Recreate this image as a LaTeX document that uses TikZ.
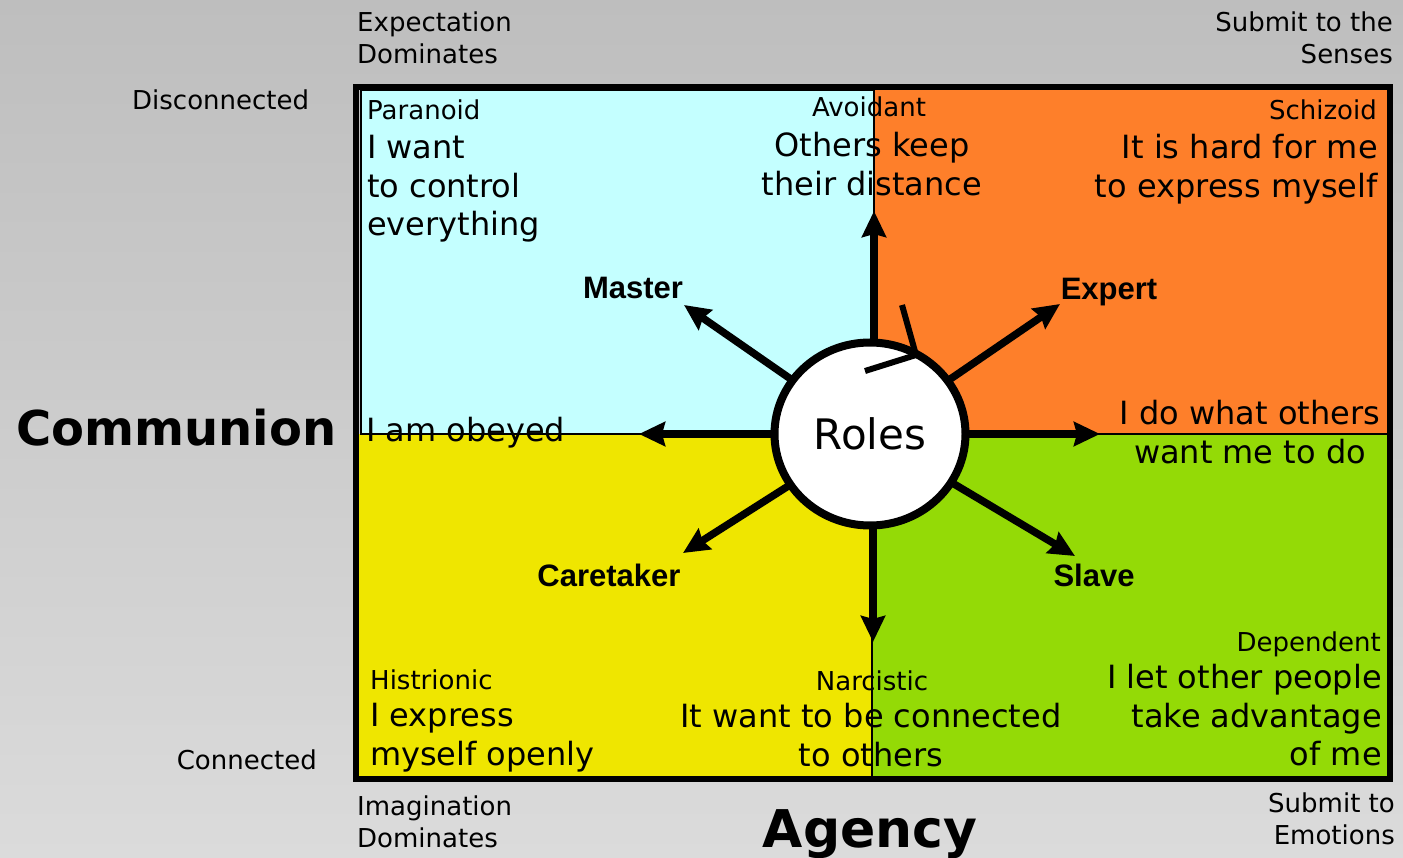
\documentclass[tikz,border=0pt]{standalone}
\usepackage{fontspec}
\setmainfont{DejaVu Sans}
\newfontfamily\arialfont{Liberation Sans}
\usetikzlibrary{arrows.meta,shapes.geometric}
\definecolor{bgtop}{HTML}{BEBEBE}
\definecolor{bgbot}{HTML}{DBDBDB}
\definecolor{qcyan}{HTML}{C4FFFF}
\definecolor{qorange}{HTML}{FE7F2A}
\definecolor{qyellow}{HTML}{EFE600}
\definecolor{qgreen}{HTML}{94DA06}
\begin{document}
\begin{tikzpicture}[x=1pt,y=-1pt,
  small/.style={font=\fontsize{26}{32}\selectfont, inner sep=0pt},
  big/.style={font=\fontsize{32}{38.5}\selectfont, inner sep=0pt},
  rolelabel/.style={font=\arialfont\bfseries\fontsize{31}{36}\selectfont, inner sep=0pt},
  axislabel/.style={font=\bfseries\fontsize{48}{56}\selectfont, inner sep=0pt},
  arr/.style={line width=7.5pt, -{Stealth[length=26pt,width=24pt,inset=3pt]}},
  divider/.style={line width=1.6pt}]
\useasboundingbox (0,0) rectangle (1403,858);
\shade[top color=bgtop, bottom color=bgbot] (0,0) rectangle (1403,858);
% quadrants
\filldraw[fill=qcyan, line width=1.2pt] (361,90) rectangle (874,434);
\fill[qorange] (874,90) rectangle (1388,434);
\fill[qyellow] (358,434) rectangle (873,776);
\fill[qgreen] (873,434) rectangle (1388,776);
% outer labels
\node[small, anchor=north west, align=left] (expect) at (357,12) {Expectation\\Dominates};
\node[small, anchor=north east, align=right] (senses) at (1393,12) {Submit to the\\Senses};
\node[small, anchor=base west] (disc) at (132,110) {Disconnected};
\node[small, anchor=base east] (conn) at (317,769) {Connected};
\node[small, anchor=north west, align=left] (imag) at (357,796) {Imagination\\Dominates};
\node[small, anchor=north east, align=right] (emot) at (1395,793) {Submit to\\Emotions};
\node[axislabel, anchor=base west] (communion) at (16,446) {Communion};
\node[axislabel, font=\bfseries\fontsize{52}{60}\selectfont, anchor=base] (agency) at (870,847) {Agency};
% quadrant texts
\node[small, anchor=base west] (paranoid) at (367,120) {Paranoid};
\node[big, anchor=north west, align=left] (paranoidtxt) at (367,135) {I want\\to control\\everything};
\node[small, anchor=base] (avoidant) at (869,117) {Avoidant};
\node[big, anchor=north, align=center] (avoidanttxt) at (872,132) {Others keep\\their distance};
\node[small, anchor=base east] (schizoid) at (1377,120) {Schizoid};
\node[big, anchor=north east, align=right] (schizoidtxt) at (1378,134) {It is hard for me\\to express myself};
\node[big, anchor=north, align=center] (dowhat) at (1250,400) {I do what others\\want me to do};
\node[big, anchor=base west] (obeyed) at (366,442) {I am obeyed};
\node[small, anchor=base west] (histrionic) at (370,689) {Histrionic};
\node[big, anchor=north west, align=left] (histriontxt) at (370,703) {I express\\myself openly};
\node[small, anchor=base] (narcistic) at (872,690) {Narcistic};
\node[big, anchor=north, align=center] (narcistictxt) at (871,703) {It want to be connected\\to others};
\node[small, anchor=base east] (dependent) at (1381,651) {Dependent};
\node[big, anchor=north east, align=right] (dependenttxt) at (1382,664) {I let other people\\take advantage\\of me};
% dividers
\coordinate (vtop) at (874,90);
\coordinate (vbot) at (872,776);
\coordinate (hleft) at (360,434);
\coordinate (hright) at (1388,434);
\draw[divider] (vtop) -- (874,434);
\draw[divider] (872,434) -- (vbot);
\draw[divider] (hleft) -- (hright);
% frame
\draw[line width=6pt] (356,87.5) rectangle (1390,778.5);
% role labels
\node[rolelabel] (master) at (633,288) {Master};
\node[rolelabel] (expert) at (1109,292) {Expert};
\node[rolelabel] (caretaker) at (609,575) {Caretaker};
\node[rolelabel] (slave) at (1094,575) {Slave};
% arrows
\coordinate (roles0) at (870,434);
\coordinate (tipup) at (874,211);
\coordinate (tipdown) at (873,642);
\coordinate (tipleft) at (639,434);
\coordinate (tipright) at (1100,434);
\coordinate (tipmaster) at (684,305);
\coordinate (tipexpert) at (1060,304);
\coordinate (tipcare) at (683,553);
\coordinate (tipslave) at (1075,556);
\draw[arr] (874,400) -- (tipup);
\draw[arr] (873,470) -- (tipdown);
\draw[arr] (830,434) -- (tipleft);
\draw[arr] (910,434) -- (tipright);
\draw[arr] (roles0) -- (tipmaster);
\draw[arr] (roles0) -- (tipexpert);
\draw[arr] (roles0) -- (tipcare);
\draw[arr] (roles0) -- (tipslave);
% circle
\node[ellipse, draw, fill=white, line width=8pt, minimum width=191pt, minimum height=183pt, inner sep=0pt,
  font=\fontsize{42}{50}\selectfont] (roles) at (roles0) {Roles};
% stray mark
\coordinate (m1) at (902,305);
\coordinate (m2) at (916,355);
\coordinate (m3) at (865,371);
\draw[line width=6pt] (m1) -- (m2) -- (m3);
\end{tikzpicture}
\end{document}
